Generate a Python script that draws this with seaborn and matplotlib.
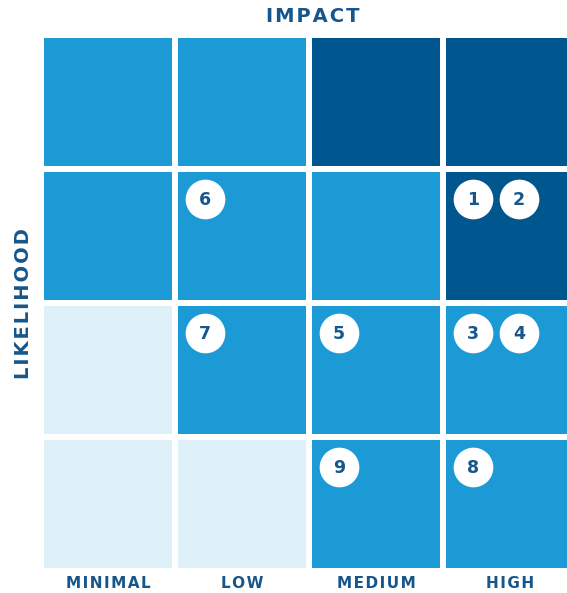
import numpy as np
import pandas as pd
import matplotlib
matplotlib.use('Agg')
import matplotlib.pyplot as plt
import seaborn as sns
from matplotlib.colors import ListedColormap

# impact (columns) and likelihood (rows, top = most likely)
impact_labels = ['MINIMAL', 'LOW', 'MEDIUM', 'HIGH']
likelihood_rows = ['very likely', 'likely', 'possible', 'unlikely']

# severity level per cell: 0 = low, 1 = medium, 2 = high
severity = [
    [1, 1, 2, 2],
    [1, 1, 1, 2],
    [0, 1, 1, 1],
    [0, 0, 1, 1],
]

# numbered risks: id, impact column, likelihood row, slot within cell
risk_ids = [1, 2, 3, 4, 5, 6, 7, 8, 9]
risk_impact = [3, 3, 3, 3, 2, 1, 1, 3, 2]
risk_likelihood = [1, 1, 2, 2, 2, 1, 2, 3, 3]
risk_slot = [0, 1, 0, 1, 0, 0, 0, 0, 0]

light = '#def1f9'
mid = '#1b9ad6'
dark = '#00568f'
text_col = '#17568a'

sns.set_theme(style='white')
plt.rcParams['font.family'] = ['DejaVu Sans']


def spaced(s):
    return '\u200a'.join(s)


df = pd.DataFrame(severity, index=likelihood_rows, columns=impact_labels)

fig = plt.figure(figsize=(5.67, 5.93), dpi=100)
ax = fig.add_axes([41 / 567, 22 / 593, 536 / 567, 536 / 593])

sns.heatmap(df, ax=ax, cmap=ListedColormap([light, mid, dark]), vmin=-0.5, vmax=2.5,
            cbar=False, linewidths=4.3, linecolor='white', square=False)

ax.set_xticks([])
ax.set_yticks([])
ax.set_xlabel('')
ax.set_ylabel('')
for s in ax.spines.values():
    s.set_visible(False)

# risk markers
xs = [c + 0.224 + 0.343 * sl for c, sl in zip(risk_impact, risk_slot)]
ys = [r + 0.224 for r in risk_likelihood]
ax.scatter(xs, ys, s=760, color='white', zorder=5, clip_on=False)
for x, y, n in zip(xs, ys, risk_ids):
    ax.text(x, y + 0.01, str(n), ha='center', va='center', color=text_col,
            fontsize=12.5, fontweight='bold', zorder=6)

# axis titles and category labels
fig.text(313 / 567, 1 - 17 / 593, spaced('IMPACT'), ha='center', va='center',
         color=text_col, fontsize=14, fontweight='bold')
fig.text(24 / 567, 1 - 304 / 593, spaced('LIKELIHOOD'), ha='center', va='center',
         rotation=90, color=text_col, fontsize=14, fontweight='bold')
for i, lab in enumerate(impact_labels):
    fig.text((44 + 64 + 134 * i) / 567, 1 - 583 / 593, spaced(lab), ha='center',
             va='center', color=text_col, fontsize=11, fontweight='bold')

fig.savefig('out.png', dpi=100)
